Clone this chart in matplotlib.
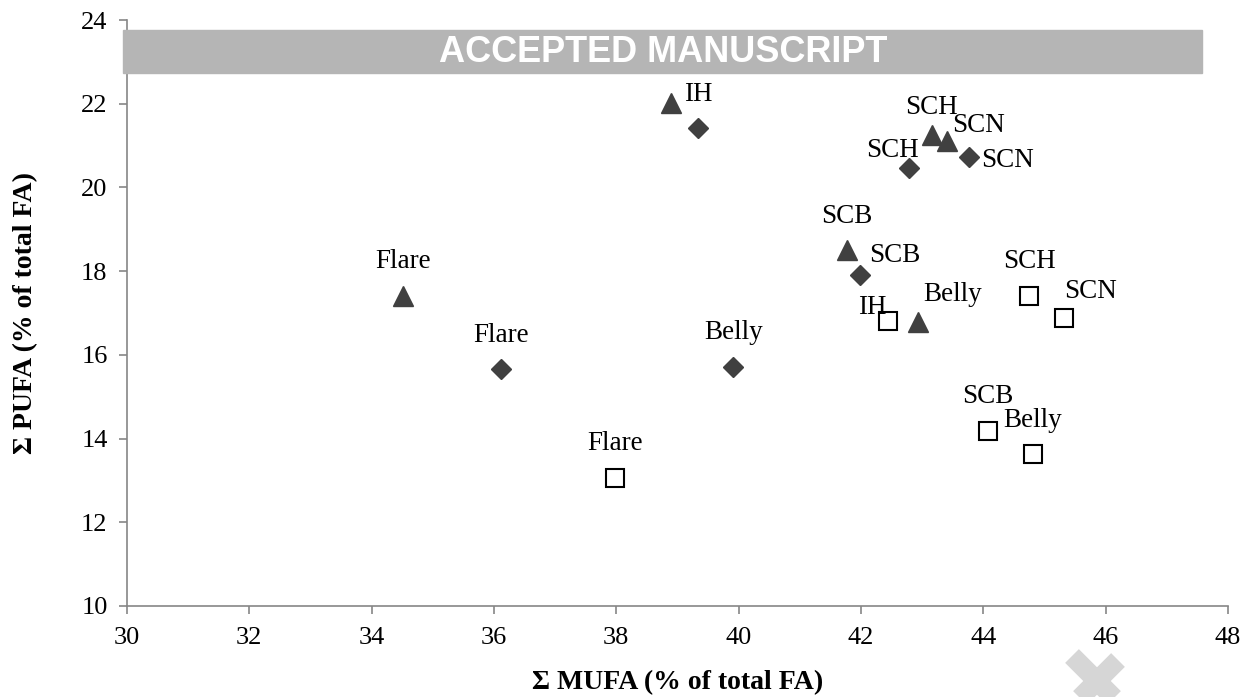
import matplotlib
matplotlib.use("Agg")
import matplotlib.pyplot as plt
from matplotlib.lines import Line2D
from matplotlib.patches import Rectangle

plt.rcParams['font.family'] = ['Liberation Serif', 'DejaVu Serif']

# triangles
tri_x = [34.52, 38.89, 43.16, 43.40, 41.77, 42.93]
tri_y = [17.40, 22.02, 21.25, 21.12, 18.50, 16.78]
tri_lab = ['Flare', 'IH', 'SCH', 'SCN', 'SCB', 'Belly']
tri_off = [(0, 25), (20, 6), (0, 20), (23, 11), (0, 24), (25, 20)]

# diamonds
dia_x = [36.11, 39.91, 39.33, 42.78, 43.76, 41.98]
dia_y = [15.67, 15.71, 21.42, 20.46, 20.72, 17.91]
dia_lab = ['Flare', 'Belly', None, 'SCH', 'SCN', 'SCB']
dia_off = [(0, 24), (0, 25), (0, 0), (-12, 13), (28, -2), (25, 14)]

# squares
sq_x = [37.98, 42.44, 44.75, 45.32, 44.08, 44.81]
sq_y = [13.05, 16.81, 17.41, 16.88, 14.18, 13.63]
sq_lab = ['Flare', 'IH', 'SCH', 'SCN', 'SCB', 'Belly']
sq_off = [(0, 25), (-11, 10), (0, 25), (19, 19), (0, 25), (0, 24)]

fig = plt.figure(figsize=(12.5, 6.97), dpi=100)
ax = fig.add_axes([0.1016, 0.1306, 0.8808, 0.8407])

ax.plot(tri_x, tri_y, ls='none', marker='^', ms=14.5, color='#404040', zorder=3)
ax.plot(dia_x, dia_y, ls='none', marker='D', ms=9.8, color='#404040', zorder=3)
ax.plot(sq_x, sq_y, ls='none', marker='s', ms=13, mfc='white', mec='black', mew=1.5, zorder=3)

for xs, ys, labs, offs in [(tri_x, tri_y, tri_lab, tri_off),
                           (dia_x, dia_y, dia_lab, dia_off),
                           (sq_x, sq_y, sq_lab, sq_off)]:
    for x, y, lab, off in zip(xs, ys, labs, offs):
        if lab is None:
            continue
        ax.annotate(lab, (x, y), xytext=off, textcoords='offset points',
                    ha='center', va='center', fontsize=19.5, zorder=4)

ax.set_xlim(30, 48)
ax.set_ylim(10, 24)
ax.set_xticks(range(30, 49, 2))
ax.set_yticks(range(10, 25, 2))
ax.tick_params(labelsize=19, color='#868686', length=6, width=1.2)
ax.tick_params(axis='x', pad=9)
ax.tick_params(axis='y', pad=8)
for side in ['top', 'right']:
    ax.spines[side].set_visible(False)
for side in ['left', 'bottom']:
    ax.spines[side].set_color('#868686')
    ax.spines[side].set_linewidth(1.2)

ax.set_xlabel('Σ MUFA (% of total FA)', fontsize=20, fontweight='bold', labelpad=15)
ax.set_ylabel('Σ PUFA (% of total FA)', fontsize=20, fontweight='bold', labelpad=31)

# "accepted manuscript" banner
fig.patches.append(Rectangle((123 / 1250, 1 - 73 / 697), (1202 - 123) / 1250, 43 / 697,
                             transform=fig.transFigure, color='#b5b5b5', zorder=5))
fig.text(663 / 1250, 1 - 52 / 697, 'ACCEPTED MANUSCRIPT', color='white',
         fontsize=26, fontweight='bold', family=['Liberation Sans', 'DejaVu Sans'],
         ha='center', va='center', zorder=6)

# watermark fragment bottom right
for (x0, y0, x1, y1) in [(1072, 656, 1120, 704), (1066, 712, 1118, 660)]:
    fig.lines.append(Line2D([x0 / 1250, x1 / 1250], [1 - y0 / 697, 1 - y1 / 697],
                            transform=fig.transFigure, color='#d6d6d6', lw=14,
                            solid_capstyle='butt', zorder=0))

fig.savefig('out.png', dpi=100)
